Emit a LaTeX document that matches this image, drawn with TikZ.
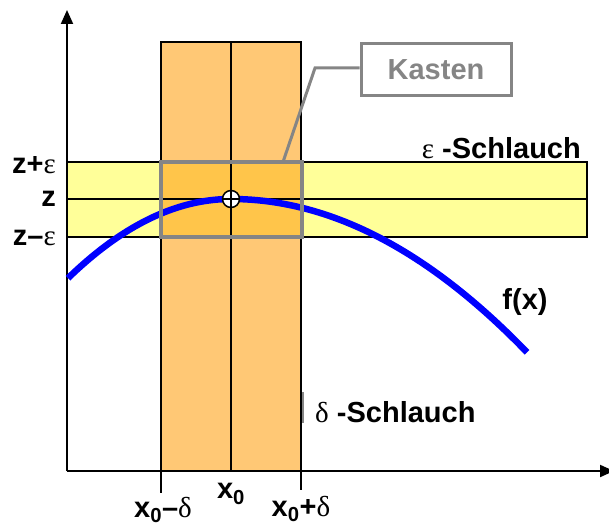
\documentclass[tikz,border=0pt]{standalone}
\usepackage{fontspec}
\setmainfont{Liberation Sans}
\newfontfamily\symfont{Liberation Serif}
\usetikzlibrary{arrows.meta}
\definecolor{bandorange}{HTML}{FFC875}
\definecolor{bandyellow}{HTML}{FFFF99}
\definecolor{crossfill}{HTML}{FFC54A}
\definecolor{kgray}{HTML}{858585}
\definecolor{fblue}{HTML}{0000FF}
\tikzset{
  lbl/.style={font=\fontsize{29}{32}\selectfont\bfseries, inner sep=0pt},
  bandline/.style={black, line width=1.5pt},
  axisline/.style={black, line width=2pt, -{Triangle[length=14pt,width=12pt]}},
}
\begin{document}
\begin{tikzpicture}[x=1pt,y=-1pt]
\useasboundingbox (0,0) rectangle (609,526);
% bands
\fill[bandyellow] (67,162) rectangle (587,237);
\fill[bandorange] (161,42) rectangle (301,471);
\fill[crossfill] (161,162) rectangle (301,237);
\draw[bandline] (67,162) rectangle (587,237);
\draw[bandline] (67,199) -- (587,199);
\draw[bandline] (161,471) -- (161,42) -- (301,42) -- (301,471);
\draw[bandline] (231,42) -- (231,471);
% ticks
\draw[black, line width=2pt] (161,471) -- (161,493);
\draw[black, line width=2pt] (301,471) -- (301,490);
% axes
\coordinate (O) at (67,471);
\coordinate (ytop) at (67,10);
\coordinate (xend) at (614,471);
\draw[axisline] (O) -- (ytop);
\draw[axisline] (O) -- (xend);
% curve
\draw[fblue, line width=6.5pt, line cap=butt]
  plot[domain=68:231, samples=60, smooth] (\x,{199+0.298*((\x-231)/10)^2})
  -- plot[domain=231:527, samples=80, smooth] (\x,{199+0.175*((\x-231)/10)^2});
% Kasten box
\draw[kgray, line width=4pt] (161,162) rectangle (302,237);
% point
\node[circle, draw=black, fill=white, line width=1.5pt, minimum size=17pt, inner sep=0pt] (P) at (231,199) {};
\draw[black, line width=1.2pt] (P.west) -- (P.east);
\draw[black, line width=1.2pt] (P.north) -- (P.south);
% Kasten label
\node[draw=kgray, line width=3pt, text=kgray, lbl, minimum width=150pt, minimum height=52pt] (K) at (436,70) {Kasten};
\coordinate (bend) at (315,68);
\coordinate (kb) at (283,162);
\draw[kgray, line width=3pt] (K.west |- bend) -- (bend) -- (kb);
% small mark
\draw[kgray, line width=1.5pt] (303,392) -- (303,423);
% labels
\node[lbl, anchor=east] (zp) at (56,165) {z+{\symfont\mdseries ε}};
\node[lbl, anchor=east] (z0) at (56,199) {z};
\node[lbl, anchor=east] (zm) at (56,238) {z–{\symfont\mdseries ε}};
\node[lbl, anchor=east] (es) at (581,148) {{\symfont\mdseries ε} -Schlauch};
\node[lbl, anchor=west] (ds) at (315,412) {{\symfont\mdseries δ} -Schlauch};
\node[lbl] (fx) at (525,302) {f(x)};
\node[lbl] (x0) at (231,494) {x\textsubscript{0}};
\node[lbl] (xm) at (163,510) {x\textsubscript{0}–{\symfont\mdseries δ}};
\node[lbl] (xp) at (301,509) {x\textsubscript{0}+{\symfont\mdseries δ}};
\end{tikzpicture}
\end{document}
